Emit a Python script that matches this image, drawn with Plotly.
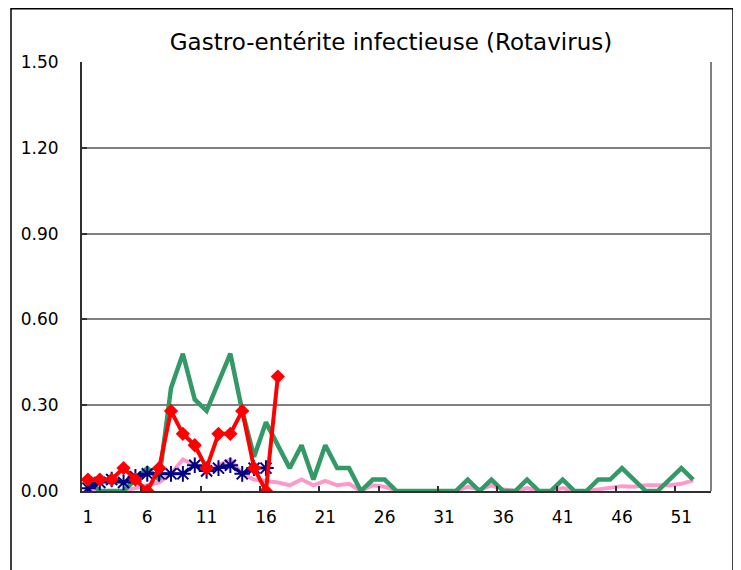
import plotly.graph_objects as go

weeks = list(range(1, 53))
week_tick_labels = ["1", "6", "11", "16", "21", "26", "31", "36", "41", "46", "51"]
week_tick_positions = [1, 6, 11, 16, 21, 26, 31, 36, 41, 46, 51]

# Pink: reference / average level
pink_values = [0.01, 0.00, 0.00, 0.00, 0.01, 0.02, 0.03, 0.06, 0.11, 0.09,
               0.07, 0.09, 0.11, 0.06, 0.04, 0.035, 0.03, 0.02, 0.04, 0.02,
               0.035, 0.02, 0.025, 0.00, 0.02, 0.015, 0.00, 0.00, 0.00, 0.00,
               0.00, 0.00, 0.015, 0.005, 0.02, 0.005, 0.00, 0.01, 0.00, 0.00,
               0.01, 0.00, 0.00, 0.005, 0.01, 0.017, 0.015, 0.02, 0.02, 0.02,
               0.025, 0.037]

# Green: previous season
green_values = [0.04, 0.00, 0.00, 0.00, 0.04, 0.08, 0.04, 0.36, 0.48, 0.32,
                0.28, 0.38, 0.48, 0.28, 0.12, 0.24, 0.16, 0.08, 0.16, 0.04,
                0.16, 0.08, 0.08, 0.00, 0.04, 0.04, 0.00, 0.00, 0.00, 0.00,
                0.00, 0.00, 0.04, 0.00, 0.04, 0.00, 0.00, 0.04, 0.00, 0.00,
                0.04, 0.00, 0.00, 0.04, 0.04, 0.08, 0.04, 0.00, 0.00, 0.04,
                0.08, 0.04]

# Navy: asterisk series (weeks 1-16)
blue_weeks = list(range(1, 17))
blue_values = [0.01, 0.03, 0.04, 0.03, 0.05, 0.06, 0.06, 0.06, 0.06, 0.09,
               0.07, 0.08, 0.09, 0.06, 0.08, 0.08]

# Red: current season (weeks 1-17)
red_weeks = list(range(1, 18))
red_values = [0.04, 0.04, 0.04, 0.08, 0.04, 0.00, 0.08, 0.28, 0.20, 0.16,
              0.08, 0.20, 0.20, 0.28, 0.08, 0.00, 0.40]

y_ticks = [0.0, 0.3, 0.6, 0.9, 1.2, 1.5]

FONT = "DejaVu Sans"

fig = go.Figure()
fig.add_trace(go.Scatter(x=weeks, y=pink_values, mode="lines",
                         line=dict(color="#FF99CC", width=4), showlegend=False))
fig.add_trace(go.Scatter(x=weeks, y=green_values, mode="lines",
                         line=dict(color="#339966", width=4.5), showlegend=False))
fig.add_trace(go.Scatter(x=blue_weeks, y=blue_values, mode="lines+markers",
                         line=dict(color="#000080", width=3),
                         marker=dict(symbol="asterisk-open", size=13,
                                     color="#000080",
                                     line=dict(color="#000080", width=2)),
                         showlegend=False))
fig.add_trace(go.Scatter(x=red_weeks, y=red_values, mode="lines+markers",
                         line=dict(color="#FF0000", width=4),
                         marker=dict(symbol="diamond", size=11, color="#FF0000"),
                         showlegend=False))

# page offset (browser body margin) compensation
OFF = 8
L, R, T, B = 82 - OFF, 711 - OFF, 62 - OFF, 491 - OFF
W, H = 741 - OFF, 570 - OFF

def px2paper_x(px):
    return (px - OFF - L) / (R - L)

def px2paper_y(py):
    return (B - (py - OFF)) / (B - T)

fig.update_layout(
    width=W, height=H,
    margin=dict(l=L, r=W - R, t=T, b=H - B, pad=0),
    paper_bgcolor="white", plot_bgcolor="white",
    font=dict(family=FONT, size=17, color="black"),
    title=dict(text="Gastro-entérite infectieuse (Rotavirus)",
               font=dict(family=FONT, size=23, color="black"),
               x=(391 - OFF) / W, xanchor="center", xref="container",
               y=1 - (42 - OFF) / H, yanchor="middle", yref="container"),
    xaxis=dict(range=[0.5, 53.5], tickvals=week_tick_positions,
               ticktext=week_tick_labels, ticks="", showgrid=False,
               zeroline=False, showline=True, linecolor="#303030", linewidth=2,
               ticklabelstandoff=10,
               tickfont=dict(family=FONT, size=17),
               minor=dict(tickvals=[5.5, 10.5, 15.5, 20.5, 25.5, 30.5, 35.5,
                                    40.5, 45.5, 50.5],
                          ticks="inside", ticklen=5, tickcolor="#303030",
                          tickwidth=1.5, showgrid=False)),
    yaxis=dict(range=[0, 1.5], tickvals=y_ticks, tickformat=".2f",
               showgrid=True, gridcolor="#808080", gridwidth=1.5,
               zeroline=False, showline=True, linecolor="#303030", linewidth=2,
               ticks="inside", ticklen=5, tickcolor="#303030", tickwidth=1.5,
               ticklabelstandoff=18,
               tickfont=dict(family=FONT, size=17)),
)

# right border of plot area (gray)
fig.add_shape(type="line", xref="paper", yref="paper",
              x0=1, x1=1, y0=0, y1=1,
              line=dict(color="#808080", width=2))
# outer chart frame
fig.add_shape(type="rect", xref="paper", yref="paper",
              x0=px2paper_x(11), x1=px2paper_x(733),
              y0=px2paper_y(620), y1=px2paper_y(8.8),
              line=dict(color="black", width=1.5), fillcolor="rgba(0,0,0,0)",
              layer="above")

fig.write_html("out.html")
